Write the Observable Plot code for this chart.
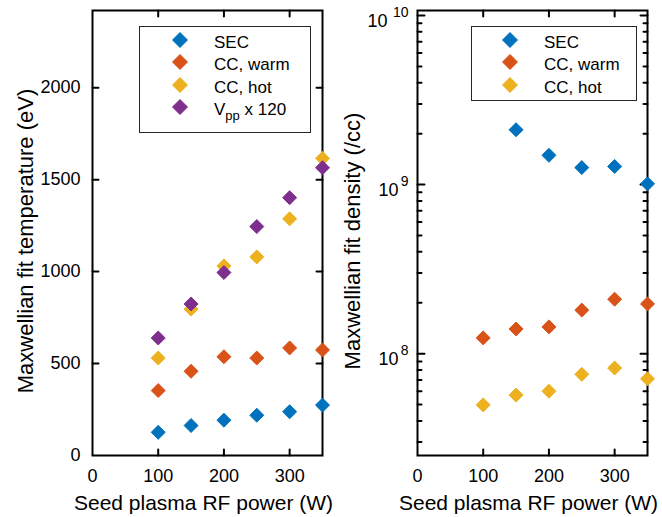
<!DOCTYPE html>
<html><head><meta charset="utf-8">
<script src="https://cdn.jsdelivr.net/npm/d3@7"></script>
<script src="https://cdn.jsdelivr.net/npm/@observablehq/plot@0.6"></script>
<style>
body{margin:0;background:#fff;font-family:"Liberation Sans",Arial,sans-serif;}
#wrap{position:relative;width:662px;height:517px;overflow:hidden;}
#wrap svg{position:absolute;top:0;overflow:visible !important;}
.legend{position:absolute;background:#fff;border:1px solid #262626;box-sizing:border-box;font-size:17px;color:#000;}
.legend .row{position:absolute;left:0;right:0;height:22px;}
.legend .row svg{position:absolute;top:3px;}
.legend .row span{position:absolute;top:1px;line-height:20px;white-space:nowrap;}
.legend sub{font-size:13px;vertical-align:-5px;line-height:0;}
</style>
</head><body>
<div id="wrap"></div>
<script>
const power = [100, 150, 200, 250, 300, 350];
const xTickLabels = [0, 100, 200, 300];
const xTicks = [100, 200, 300];

const tempSEC = [126, 163, 192, 219, 238, 274];
const tempCCwarm = [353, 458, 537, 530, 585, 574];
const tempCChot = [530, 796, 1031, 1080, 1287, 1616];
const tempVpp = [639, 824, 995, 1245, 1402, 1565];
const tempTickLabels = [0, 500, 1000, 1500, 2000];
const tempTicks = [500, 1000, 1500, 2000];

const densSEC = [null, 2.11e9, 1.49e9, 1.26e9, 1.28e9, 1.01e9];
const densCCwarm = [1.24e8, 1.40e8, 1.44e8, 1.81e8, 2.10e8, 1.97e8];
const densCChot = [4.98e7, 5.69e7, 6.0e7, 7.55e7, 8.23e7, 7.1e7];
const densMajor = [1e8, 1e9, 1e10];
const densMinor = [3e7, 4e7, 5e7, 6e7, 7e7, 8e7, 9e7, 2e8, 3e8, 4e8, 5e8, 6e8, 7e8, 8e8, 9e8, 2e9, 3e9, 4e9, 5e9, 6e9, 7e9, 8e9, 9e9];

const seriesNamesLeft = ["SEC", "CC, warm", "CC, hot", "V<sub>pp</sub> x 120"];
const seriesNamesRight = ["SEC", "CC, warm", "CC, hot"];
const colors = ["#0072BD", "#D95319", "#EDB120", "#7E2F8E"];

const xLabel = "Seed plasma RF power (W)";
const yLabelLeft = "Maxwellian fit temperature (eV)";
const yLabelRight = "Maxwellian fit density (/cc)";

const font = "Liberation Sans, Arial, Helvetica, sans-serif";

const tickShape = {draw(context, l) { context.moveTo(0, 0); context.lineTo(0, -l); }};

function rows(values) {
  return power.map((p, i) => ({p, v: values[i]})).filter(d => d.v != null);
}
function dots(values, c) {
  return Plot.dot(rows(values), {x: "p", y: "v", symbol: "diamond2", r: 6.3, fill: c, stroke: c, strokeWidth: 1});
}
function inTicks(k, ticks, size) {
  const sides = k === "x" ? [["bottom", 0], ["top", 180]] : [["left", 90], ["right", -90]];
  return sides.map(([a, r]) => Plot.vector(ticks, {
    [k]: d => d, frameAnchor: a, length: size, rotate: r, anchor: "start",
    shape: tickShape, stroke: "black", strokeWidth: 2
  }));
}
function common(marks) {
  return [
    Plot.frame({stroke: "black", strokeWidth: 2}),
    ...inTicks("x", xTicks, 6),
    Plot.axisX({ticks: xTickLabels, anchor: "bottom", tickSize: 0, tickPadding: 14, fontSize: 18, tickFormat: d3.format("d"), label: null}),
    Plot.text([xLabel], {frameAnchor: "bottom", dx: -4, dy: 54, lineAnchor: "bottom", textAnchor: "middle", fontSize: 21, text: d => d}),
    ...marks
  ];
}

const left = Plot.plot({
  width: 331, height: 517,
  marginLeft: 92, marginRight: 9, marginTop: 10, marginBottom: 62,
  style: {fontFamily: font, fontSize: "18px", color: "black", background: "transparent", overflow: "visible"},
  x: {domain: [0, 350]},
  y: {domain: [0, 2420]},
  marks: common([
    ...inTicks("y", tempTicks, 6),
    Plot.axisY({ticks: tempTickLabels, anchor: "left", tickSize: 0, tickPadding: 12, fontSize: 18, tickFormat: d3.format("d"), label: null}),
    Plot.text([yLabelLeft], {frameAnchor: "left", dx: -67, dy: 8, rotate: -90, textAnchor: "middle", lineAnchor: "middle", fontSize: 22, text: d => d}),
    dots(tempSEC, colors[0]),
    dots(tempCCwarm, colors[1]),
    dots(tempCChot, colors[2]),
    dots(tempVpp, colors[3])
  ])
});
left.style.left = "0px";

const oneDigit = densMajor.filter(d => Math.log10(d) < 9.5);
const twoDigit = densMajor.filter(d => Math.log10(d) >= 9.5);
const right = Plot.plot({
  width: 331, height: 517,
  marginLeft: 86, marginRight: 15, marginTop: 10, marginBottom: 62,
  style: {fontFamily: font, fontSize: "18px", color: "black", background: "transparent", overflow: "visible"},
  x: {domain: [0, 350]},
  y: {type: "log", domain: [2.5e7, 1.07e10]},
  marks: common([
    Plot.axisY({ticks: [], anchor: "left", tickSize: 0, label: null}),
    ...inTicks("y", densMajor, 7),
    ...inTicks("y", densMinor, 4),
    Plot.text(oneDigit, {y: d => d, frameAnchor: "left", dx: -19, dy: 6, textAnchor: "end", fontSize: 18, text: () => "10"}),
    Plot.text(twoDigit, {y: d => d, frameAnchor: "left", dx: -30, dy: 6, textAnchor: "end", fontSize: 18, text: () => "10"}),
    Plot.text(densMajor, {y: d => d, frameAnchor: "left", dx: -9, dy: -3, textAnchor: "end", fontSize: 14, text: d => String(Math.round(Math.log10(d)))}),
    Plot.text([yLabelRight], {frameAnchor: "left", dx: -65, dy: 8, rotate: -90, textAnchor: "middle", lineAnchor: "middle", fontSize: 22, text: d => d}),
    dots(densSEC, colors[0]),
    dots(densCCwarm, colors[1]),
    dots(densCChot, colors[2])
  ])
});
right.style.left = "331px";

const wrap = document.getElementById("wrap");
wrap.appendChild(left);
wrap.appendChild(right);

function legend(names, box, mx, tx) {
  const div = document.createElement("div");
  div.className = "legend";
  Object.assign(div.style, {left: box[0] + "px", top: box[1] + "px", width: box[2] + "px", height: box[3] + "px"});
  names.forEach((n, i) => {
    const row = document.createElement("div");
    row.className = "row";
    row.style.top = (4.7 + i * 22.5) + "px";
    const c = colors[i];
    row.innerHTML = `<svg width="16" height="16" style="left:${mx - 8}px"><path d="M8,0.5L15.5,8L8,15.5L0.5,8Z" fill="${c}" stroke="${c}"/></svg><span style="left:${tx}px">${n}</span>`;
    div.appendChild(row);
  });
  wrap.appendChild(div);
}
legend(seriesNamesLeft, [139, 26, 172, 107], 40, 74);
legend(seriesNamesRight, [471, 26, 166, 75], 38, 72);
</script>
</body></html>
